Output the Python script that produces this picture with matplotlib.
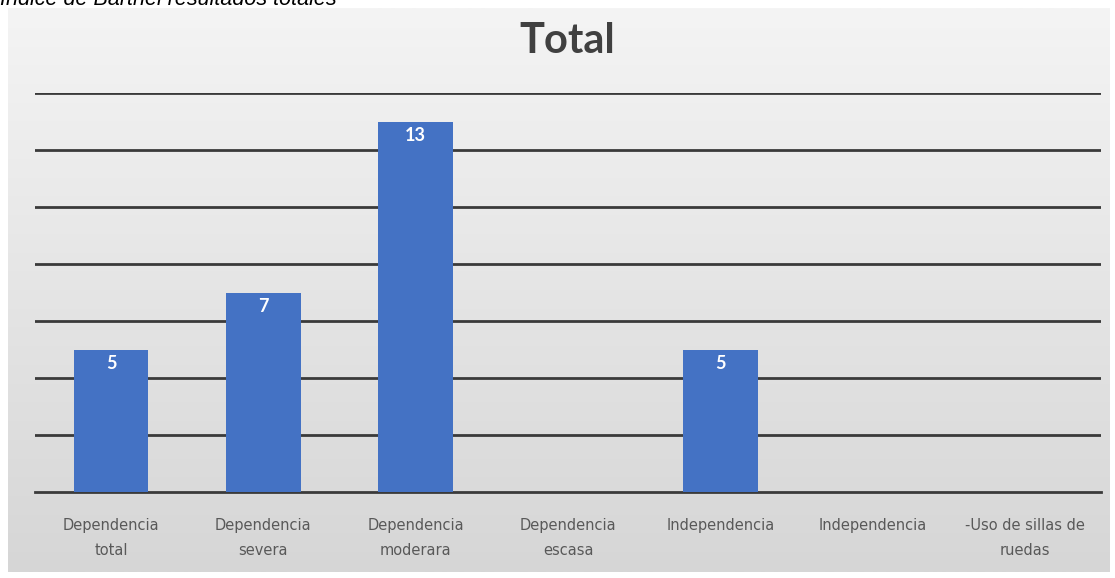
import numpy as np
import matplotlib
matplotlib.use("Agg")
import matplotlib.pyplot as plt

# categorias del indice de Barthel y numero de pacientes
categorias = ["Dependencia\ntotal", "Dependencia\nsevera", "Dependencia\nmoderara",
              "Dependencia\nescasa", "Independencia", "Independencia",
              "-Uso de sillas de\nruedas"]
valores = [5, 7, 13, 0, 5, 0, 0]
etiquetas = ["5", "7", "13", "", "5", "", ""]

W, H = 1115, 578
fig = plt.figure(figsize=(W / 100, H / 100), dpi=100)
fig.patch.set_facecolor("white")

# caja gris del grafico con degradado vertical
bg = fig.add_axes([8 / W, 1 - 572 / H, (1110 - 8) / W, (572 - 8) / H])
grad = np.linspace(0, 1, 256).reshape(-1, 1)
bg.imshow(grad, aspect="auto", cmap=matplotlib.colors.LinearSegmentedColormap.from_list(
    "g", ["#f4f4f4", "#d6d6d6"]), extent=[0, 1, 0, 1], origin="upper")
bg.set_axis_off()

# texto del pie superior (cortado en el borde)
fig.text(0.0, 1 - 5 / H, "Índice de Barthel resultados totales", fontsize=15.5,
         style="italic", family="Liberation Sans", va="baseline", ha="left", color="black")

ax = fig.add_axes([35 / W, 1 - 492 / H, (1101 - 35) / W, (492 - 93) / H])
ax.set_facecolor("none")
x = np.arange(len(categorias))
ax.bar(x, valores, width=0.49, color="#4472C4", zorder=3)

ax.set_xlim(-0.5, len(categorias) - 0.5)
ax.set_ylim(0, 14)
ax.set_yticks(np.arange(2, 15, 2))
ax.yaxis.grid(True, color="#3a3a3a", linewidth=2)
ax.set_axisbelow(True)
for s in ["top", "right", "left"]:
    ax.spines[s].set_visible(False)
ax.spines["bottom"].set_color("#3a3a3a")
ax.spines["bottom"].set_linewidth(2)
ax.tick_params(left=False, labelleft=False, bottom=False)
ax.set_xticks(x)
ax.set_xticklabels(categorias, fontsize=10.5, color="#595959", family="DejaVu Sans",
                   linespacing=1.85)
ax.tick_params(axis="x", pad=15)

for xi, v, t in zip(x, valores, etiquetas):
    if t:
        ax.text(xi, v - 0.5, t, ha="center", va="center", color="white",
                fontsize=13, fontweight="bold", family="Lato", zorder=4)

fig.text(567 / W, 1 - 53 / H, "Total", ha="center", va="baseline", fontsize=30,
         fontweight="bold", family="Lato", color="#404040")

fig.savefig("out.png", dpi=100)
